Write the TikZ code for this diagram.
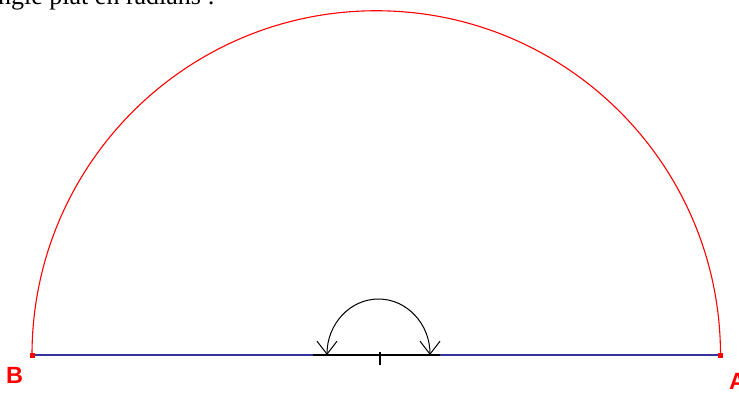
\documentclass[tikz,border=0pt]{standalone}
\usepackage{fontspec}
\setmainfont{Liberation Serif}
\newfontfamily\labelfont{Liberation Sans}
\usetikzlibrary{arrows.meta}
\definecolor{navy}{RGB}{51,51,153}
\begin{document}
\begin{tikzpicture}[x=1pt,y=1pt,
  redarc/.style={draw=red,line width=1.1pt},
  baseline/.style={draw=navy,line width=2pt},
  seg/.style={draw=black,line width=1.8pt},
  turn/.style={draw=black,line width=1pt,
    {Straight Barb[length=13pt,width=20pt,line width=1pt]}-{Straight Barb[length=13pt,width=20pt,line width=1pt]}},
  ptlabel/.style={text=red,font=\labelfont\bfseries\fontsize{23.5}{24}\selectfont,inner sep=0pt,anchor=base west},
  dot/.style={fill=red,draw=none,minimum size=5pt,inner sep=0pt,rectangle}
]
\useasboundingbox (0,0) rectangle (739,392);
\clip (0,0) rectangle (739,392);
\fill[white] (0,0) rectangle (739,392);
% top text (cut by the frame)
\node[anchor=base west,inner sep=0pt,font=\fontsize{26}{26}\selectfont] (title) at (-2,387) {ngle plat en radians :};
% points
\coordinate (B) at (32,37);
\coordinate (A) at (720.5,37);
% red semicircle
\draw[redarc] (B) arc[start angle=180,end angle=0,radius=344.25];
% blue diameter
\draw[baseline] (B) -- (A);
% black segment and tick
\coordinate (S1) at (313,37);
\coordinate (S2) at (440,37);
\draw[seg] (S1) -- (S2);
\coordinate (T1) at (380,40);
\coordinate (T2) at (380,27);
\draw[black,line width=1.2pt] (T1) -- (T2);
% black turning arc with arrowheads
\coordinate (L) at (327,37);
\draw[turn] (L) arc[start angle=180,end angle=0,x radius=51.5,y radius=56];
% point markers
\node[dot] (Bd) at (B) {};
\node[dot] (Ad) at (A) {};
% labels
\node[ptlabel] (Blab) at (6,9) {B};
\node[ptlabel] (Alab) at (729,3) {A};
\end{tikzpicture}
\end{document}
